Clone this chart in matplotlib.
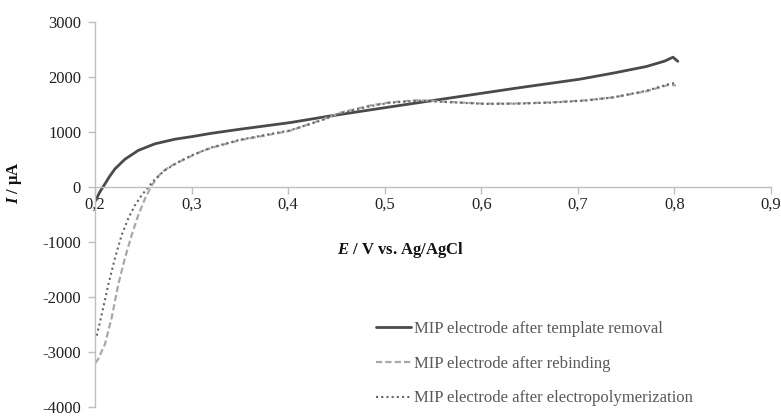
import matplotlib
matplotlib.use("Agg")
import matplotlib.pyplot as plt

plt.rcParams['font.family'] = ['Liberation Serif', 'DejaVu Serif']
plt.rcParams['mathtext.fontset'] = 'custom'
plt.rcParams['mathtext.rm'] = 'Liberation Serif:bold'
plt.rcParams['mathtext.it'] = 'Liberation Serif:italic:bold'
plt.rcParams['mathtext.bf'] = 'Liberation Serif:bold'

# ---- data ----
removal_E = [0.2005, 0.205, 0.2104, 0.2150, 0.2207, 0.231, 0.2448, 0.262, 0.283, 0.300,
             0.320, 0.350, 0.402, 0.443, 0.505, 0.569, 0.638, 0.702, 0.737, 0.771,
             0.790, 0.7985, 0.8035]
removal_I = [-250, -90, 59, 190, 330, 505, 665, 785, 870, 915,
             975, 1050, 1171, 1290, 1455, 1622, 1802, 1960, 2072, 2191,
             2290, 2360, 2285]

rebinding_E = [0.2005, 0.2034, 0.2104, 0.2173, 0.2241, 0.231, 0.238, 0.2448, 0.2518, 0.2587,
               0.269, 0.2793, 0.2932, 0.310, 0.320, 0.350, 0.402, 0.436, 0.454, 0.485,
               0.505, 0.535, 0.569, 0.604, 0.638, 0.673, 0.707, 0.737, 0.771, 0.795, 0.8015]
rebinding_I = [-3200, -3124, -2854, -2373, -1773, -1292, -872, -512, -211, 29,
               270, 389, 510, 645, 710, 850, 1021, 1231, 1351, 1483,
               1540, 1580, 1545, 1515, 1520, 1540, 1575, 1630, 1741, 1861, 1845]

polymer_E = [0.2018, 0.207, 0.2138, 0.2207, 0.2276, 0.2345, 0.2414, 0.2483, 0.2552, 0.262,
             0.272, 0.285, 0.300, 0.320, 0.350, 0.402, 0.436, 0.454, 0.485, 0.505,
             0.535, 0.569, 0.604, 0.638, 0.673, 0.707, 0.737, 0.771, 0.795, 0.801]
polymer_I = [-2703, -2313, -1773, -1292, -872, -571, -331, -151, 0, 140,
             300, 440, 575, 715, 860, 1030, 1220, 1340, 1470, 1530,
             1570, 1540, 1510, 1515, 1535, 1570, 1630, 1750, 1875, 1890]

series_labels = ['MIP electrode after template removal',
                 'MIP electrode after rebinding',
                 'MIP electrode after electropolymerization']

x_ticks = [0.2, 0.3, 0.4, 0.5, 0.6, 0.7, 0.8, 0.9]
x_tick_labels = ['0,2', '0,3', '0,4', '0,5', '0,6', '0,7', '0,8', '0,9']
y_ticks = [-4000, -3000, -2000, -1000, 0, 1000, 2000, 3000]
y_tick_labels = ['-4000', '-3000', '-2000', '-1000', '0', '1000', '2000', '3000']

# ---- figure ----
W, H = 781, 416
fig = plt.figure(figsize=(W / 100, H / 100), dpi=100)
ax = fig.add_axes([95 / W, 1 - 407 / H, (771 - 95) / W, (407 - 22) / H])

l1, = ax.plot(removal_E, removal_I, color='#4a4a4a', lw=2.0, solid_capstyle='round')
l2, = ax.plot(rebinding_E, rebinding_I, color='#a8a8a8', lw=1.6, linestyle=(0, (2.8, 1.4)))
l3, = ax.plot(polymer_E, polymer_I, color='#666666', lw=1.5, linestyle=(0, (1, 1.5)))

ax.set_xlim(0.2, 0.9)
ax.set_ylim(-4000, 3000)
ax.set_xticks(x_ticks, x_tick_labels)
ax.set_yticks(y_ticks, y_tick_labels)

for s in ['top', 'right']:
    ax.spines[s].set_visible(False)
ax.spines['bottom'].set_position(('data', 0))
for s in ['bottom', 'left']:
    ax.spines[s].set_color('#bfbfbf')
    ax.spines[s].set_linewidth(1.0)
ax.tick_params(axis='both', direction='out', length=5, width=1.0, color='#bfbfbf',
               labelsize=12, labelcolor='#222222')
ax.tick_params(axis='x', pad=2)
ax.tick_params(axis='y', pad=5)

fig.text(401 / W, 1 - 250 / H, r'$E$ / V vs. Ag/AgCl', ha='center', va='center',
         fontsize=12, fontweight='bold', color='#111111')
fig.text(15 / W, 1 - 183 / H, r'$I$ / μA', ha='center', va='center', rotation=90,
         fontsize=12, fontweight='bold', color='#111111')

leg = fig.legend([l1, l2, l3], series_labels, loc='upper left',
                 bbox_to_anchor=(376 / W, 1 - 321 / H), frameon=False,
                 handlelength=2.1, handletextpad=0.15, labelspacing=1.12,
                 borderpad=0, borderaxespad=0, fontsize=12)
for t in leg.get_texts():
    t.set_color('#595959')

fig.savefig('out.png', dpi=100)
